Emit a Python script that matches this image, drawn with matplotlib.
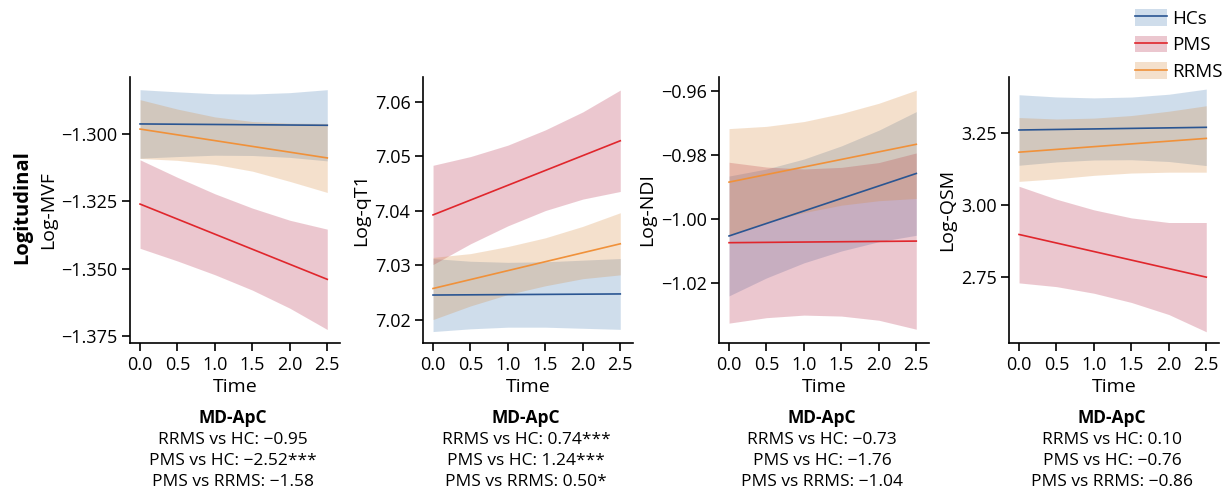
import matplotlib
matplotlib.use('Agg')
import matplotlib.pyplot as plt
from matplotlib.patches import Patch
from matplotlib.lines import Line2D

plt.rcParams['font.family'] = ['Open Sans', 'DejaVu Sans']

# time points
time_line = [0.0, 2.5]
time_band = [0.0, 0.5, 1.0, 1.5, 2.0, 2.5]

groups = ['HCs', 'PMS', 'RRMS']
line_colors = {'HCs': '#2a5592', 'PMS': '#e0262c', 'RRMS': '#f0913a'}
band_colors = {'HCs': '#437bb3', 'PMS': '#b32343', 'RRMS': '#d78737'}

# Log-MVF
mvf_hc_mean = [-1.2964, -1.2969]
mvf_hc_upper = [-1.2837, -1.2845, -1.2852, -1.2853, -1.2848, -1.2837]
mvf_hc_lower = [-1.3091, -1.3085, -1.3080, -1.3081, -1.3088, -1.3101]
mvf_pms_mean = [-1.3261, -1.3540]
mvf_pms_upper = [-1.3097, -1.3162, -1.3223, -1.3276, -1.3321, -1.3354]
mvf_pms_lower = [-1.3425, -1.3472, -1.3523, -1.3580, -1.3647, -1.3726]
mvf_rrms_mean = [-1.2983, -1.3090]
mvf_rrms_upper = [-1.2874, -1.2909, -1.2938, -1.2955, -1.2961, -1.2962]
mvf_rrms_lower = [-1.3092, -1.3099, -1.3114, -1.3139, -1.3177, -1.3218]

# Log-qT1
qt1_hc_mean = [7.0245, 7.0247]
qt1_hc_upper = [7.0312, 7.0307, 7.0305, 7.0306, 7.0309, 7.0312]
qt1_hc_lower = [7.0178, 7.0183, 7.0186, 7.0186, 7.0184, 7.0182]
qt1_pms_mean = [7.0392, 7.0528]
qt1_pms_upper = [7.0483, 7.0499, 7.0520, 7.0548, 7.0581, 7.0621]
qt1_pms_lower = [7.0301, 7.0339, 7.0372, 7.0400, 7.0421, 7.0435]
qt1_rrms_mean = [7.0257, 7.0339]
qt1_rrms_upper = [7.0314, 7.0321, 7.0334, 7.0350, 7.0371, 7.0396]
qt1_rrms_lower = [7.0200, 7.0225, 7.0246, 7.0262, 7.0275, 7.0282]

# Log-NDI
ndi_hc_mean = [-1.0052, -0.9857]
ndi_hc_upper = [-0.9865, -0.9843, -0.9812, -0.9771, -0.9722, -0.9664]
ndi_hc_lower = [-1.0239, -1.0183, -1.0136, -1.0099, -1.0070, -1.0050]
ndi_pms_mean = [-1.0073, -1.0068]
ndi_pms_upper = [-0.9822, -0.9837, -0.9843, -0.9838, -0.9823, -0.9793]
ndi_pms_lower = [-1.0324, -1.0307, -1.0299, -1.0302, -1.0315, -1.0343]
ndi_rrms_mean = [-0.9884, -0.9766]
ndi_rrms_upper = [-0.9717, -0.9710, -0.9695, -0.9670, -0.9638, -0.9597]
ndi_rrms_lower = [-1.0051, -1.0010, -0.9979, -0.9956, -0.9942, -0.9935]

# Log-QSM
qsm_hc_mean = [3.2617, 3.2710]
qsm_hc_upper = [3.3843, 3.3766, 3.3734, 3.3763, 3.3861, 3.4040]
qsm_hc_lower = [3.1391, 3.1506, 3.1574, 3.1583, 3.1521, 3.1380]
qsm_pms_mean = [2.8984, 2.7500]
qsm_pms_upper = [3.066, 3.021, 2.984, 2.956, 2.940, 2.940]
qsm_pms_lower = [2.730, 2.717, 2.694, 2.662, 2.620, 2.560]
qsm_rrms_mean = [3.1846, 3.2325]
qsm_rrms_upper = [3.305, 3.300, 3.303, 3.312, 3.327, 3.346]
qsm_rrms_lower = [3.083, 3.092, 3.104, 3.112, 3.115, 3.115]

ylabels = ['Log-MVF', 'Log-qT1', 'Log-NDI', 'Log-QSM']
yticks = [
    [-1.375, -1.350, -1.325, -1.300],
    [7.02, 7.03, 7.04, 7.05, 7.06],
    [-1.02, -1.00, -0.98, -0.96],
    [2.75, 3.00, 3.25],
]
ytick_fmt = ['{:.3f}', '{:.2f}', '{:.2f}', '{:.2f}']
ylims = [(-1.3776, -1.2790), (7.0157, 7.0645), (-1.0386, -0.9556), (2.521, 3.446)]

stats_lines = [
    ['RRMS vs HC: \u22120.95', 'PMS vs HC: \u22122.52***', 'PMS vs RRMS: \u22121.58'],
    ['RRMS vs HC: 0.74***', 'PMS vs HC: 1.24***', 'PMS vs RRMS: 0.50*'],
    ['RRMS vs HC: \u22120.73', 'PMS vs HC: \u22121.76', 'PMS vs RRMS: \u22121.04'],
    ['RRMS vs HC: 0.10', 'PMS vs HC: \u22120.76', 'PMS vs RRMS: \u22120.86'],
]

panels = [
    {'HCs': (mvf_hc_mean, mvf_hc_lower, mvf_hc_upper),
     'PMS': (mvf_pms_mean, mvf_pms_lower, mvf_pms_upper),
     'RRMS': (mvf_rrms_mean, mvf_rrms_lower, mvf_rrms_upper)},
    {'HCs': (qt1_hc_mean, qt1_hc_lower, qt1_hc_upper),
     'PMS': (qt1_pms_mean, qt1_pms_lower, qt1_pms_upper),
     'RRMS': (qt1_rrms_mean, qt1_rrms_lower, qt1_rrms_upper)},
    {'HCs': (ndi_hc_mean, ndi_hc_lower, ndi_hc_upper),
     'PMS': (ndi_pms_mean, ndi_pms_lower, ndi_pms_upper),
     'RRMS': (ndi_rrms_mean, ndi_rrms_lower, ndi_rrms_upper)},
    {'HCs': (qsm_hc_mean, qsm_hc_lower, qsm_hc_upper),
     'PMS': (qsm_pms_mean, qsm_pms_lower, qsm_pms_upper),
     'RRMS': (qsm_rrms_mean, qsm_rrms_lower, qsm_rrms_upper)},
]

W, H = 1230, 493
fig = plt.figure(figsize=(W / 100, H / 100), dpi=100)

lefts = [130, 423, 719, 1009]
ax_w, ax_top, ax_bot = 210, 77, 343
band_alpha = 0.25

for i, data in enumerate(panels):
    ax = fig.add_axes([lefts[i] / W, 1 - ax_bot / H, ax_w / W, (ax_bot - ax_top) / H])
    for g in groups:
        mean, lower, upper = data[g]
        ax.fill_between(time_band, lower, upper, color=band_colors[g],
                        alpha=band_alpha, linewidth=0)
    for g in groups:
        mean = data[g][0]
        ax.plot(time_line, mean, color=line_colors[g], linewidth=1.2)

    ax.set_xlim(-0.134, 2.67)
    ax.set_ylim(*ylims[i])
    ax.set_xticks([0.0, 0.5, 1.0, 1.5, 2.0, 2.5])
    ax.set_xticklabels(['{:.1f}'.format(v) for v in ax.get_xticks()])
    ax.set_yticks(yticks[i])
    ax.set_yticklabels([ytick_fmt[i].format(v).replace('-', '\u2212') for v in yticks[i]])
    ax.spines['top'].set_visible(False)
    ax.spines['right'].set_visible(False)
    for s in ('left', 'bottom'):
        ax.spines[s].set_linewidth(1.2)
    ax.tick_params(labelsize=13, length=6, width=1.2, pad=3)
    ax.set_xlabel('Time', fontsize=14, labelpad=3)
    ax.set_ylabel(ylabels[i], fontsize=14, labelpad=3)

    cx = (lefts[i] + ax_w / 2 - 2) / W
    fig.text(cx, 1 - 418 / H, 'MD-ApC', ha='center', va='center',
             fontsize=12.5, fontweight='bold')
    for k, line in enumerate(stats_lines[i]):
        fig.text(cx, 1 - (440 + 21 * k) / H, line, ha='center', va='center',
                 fontsize=12.5)

fig.text(22 / W, 1 - 207 / H, 'Logitudinal', rotation=90, ha='center', va='center',
         fontsize=14.5, fontweight='bold')

handles = [(Patch(facecolor=band_colors[g], alpha=band_alpha, edgecolor='none'),
            Line2D([], [], color=line_colors[g], linewidth=1.2)) for g in groups]
fig.legend(handles, groups, loc='upper right', bbox_to_anchor=(1240 / W, 1 + 8 / H),
           frameon=False, fontsize=13.5, handlelength=1.7, handleheight=1.0,
           labelspacing=0.42, handletextpad=0.3)

fig.savefig('out.png', dpi=100)
